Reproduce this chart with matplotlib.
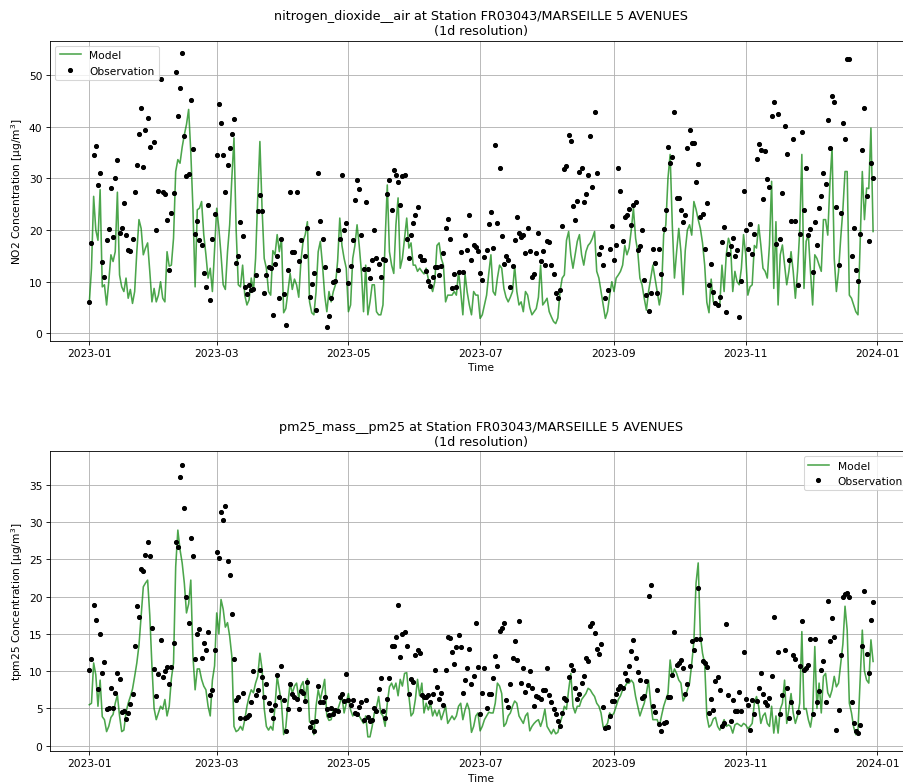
import numpy as np
import pandas as pd
import matplotlib
matplotlib.use("Agg")
import matplotlib.pyplot as plt
import matplotlib.dates as mdates

nan = np.nan

# daily values, 2023-01-01 .. 2023-12-30, one row per month
no2_model = [
    6, 12.6, 26.5, 20, 18, 27.8, 9, 9.4, 5.5, 10, 15.2, 13.9, 15.8, 27.3, 11.3, 9, 8.1, 10.7, 6.8, 8.5, 5.8, 8.1, 15.8, 22, 20.3, 15.2, 16.5, 17.5, 12, 6.1, 8.7,
    6.1, 7.4, 10, 6.8, 6.1, 15.8, 13, 13.2, 18.4, 31.3, 33.6, 32.9, 36, 38.4, 40.4, 43.3, 35, 24, 9, 23.9, 24.2, 25.5, 19.1, 15.2, 10.7, 12.6, 8.1, 16,
    24.2, 20.3, 15.2, 9.4, 8.5, 15.8, 21, 30, 37.8, 20, 9.4, 9, 13.2, 7.4, 5.5, 6.5, 10.7, 8.1, 14.5, 26.2, 37.1, 24.2, 14.5, 12.6, 8.1, 7.4, 16, 15.2, 19.1, 15.8, 18.4,
    4, 4.8, 8.1, 11.6, 8.5, 10.5, 9.4, 7, 14, 17.8, 19.1, 21.6, 6.1, 4, 3.6, 8, 15.8, 17.8, 13.2, 7.4, 4.2, 8.1, 6.1, 8.1, 9.4, 14, 22.3, 17, 14.5, 12.6,
    4.2, 5.5, 14.5, 17, 21, 17, 12, 4.2, 13.2, 3.6, 6.1, 9.4, 9.4, 4.2, 3.6, 3.6, 5.5, 18, 28.7, 15.8, 13.2, 11.6, 21, 26.2, 12.6, 14.5, 18.4, 22.3, 16.5, 17.5, 13.2,
    13.2, 12, 12.6, 12, 11.5, 12.6, 10.5, 9.4, 8.1, 10, 17, 17.5, 14.5, 13.2, 6.1, 7.4, 7.4, 7.4, 8.1, 7.4, 12, 8.1, 3.6, 11.5, 8, 5.5, 3.6, 8.1, 7.4, 7.4,
    2.9, 3.6, 5.5, 7.4, 11.6, 15.2, 8.1, 7.4, 10.7, 13.2, 12.6, 8.7, 7, 6.1, 7, 8.1, 13, 8.1, 5.5, 6.1, 4.2, 8.1, 7.4, 5, 3.6, 4.2, 4.8, 7, 13.2, 5.5, 6.1,
    6.8, 4.2, 3.2, 2.3, 1.9, 3, 8.1, 10.7, 11.3, 18, 19.7, 15.2, 12.6, 15.2, 17.8, 19.1, 15.2, 13.2, 15.8, 17, 17.5, 18.4, 19.7, 12, 10.7, 8.1, 5.5, 2.9, 4.2, 7.4, 10,
    8.1, 10.7, 11.3, 12, 13.2, 17, 15.2, 16.5, 20, 24.2, 18.4, 15.8, 10.7, 9.4, 6.8, 4.5, 8.1, 10.7, 13.2, 10.7, 8.1, 5.5, 8, 19.1, 21, 30, 34.6, 21, 10.7, 15.8,
    20.3, 15.8, 7.5, 16, 20, 21, 19, 25.5, 24, 22, 20.3, 17.5, 13.2, 6, 4, 10.5, 6.1, 5.5, 5.5, 5.5, 13.2, 8.1, 15.2, 18.4, 17, 8.1, 12, 10, 9.4, 12.6, 19.1,
    15.2, 7.4, 9, 9.4, 17, 16.5, 21, 17.1, 12.6, 12, 10.7, 17.1, 29.4, 8.7, 21.6, 5.5, 15.2, 17.1, 13.2, 9.4, 12, 15.8, 12, 6.8, 12, 19.7, 34.6, 8.7, 17.8, 19.1,
    12, 5.5, 15.2, 14.5, 13.2, 12, 22, 22, 19, 29, 35.9, 14.5, 8.1, 12, 18.4, 23.9, 31.3, 31.3, 7.4, 6.8, 5.5, 4.2, 3.6, 17.8, 31.3, 22, 28.1, 28, 39.7, 19.7,
]

no2_obs = [
    6, 17.4, 34.4, 36.2, 28.7, 31, 13.9, 10.9, 18, 20.2, 28.2, 18.7, 30, 33.6, 19.5, 20.3, 25.3, 19.1, 16.2, 16, 18.2, 27.3, 32.5, 38.6, 43.5, 32.2, 39.3, 41.6, 36.1, nan, 37,
    19.9, 27.5, 49.2, 27.4, 27, 22, 12.3, 23.3, 27.1, 50.5, 42, 47.5, 54.2, 38.2, 30.5, 30.8, 45.2, 35.6, 19.3, 21.7, 18, 17.1, 11.7, 9, 24.9, 6.4, 18.3, 23,
    34.4, 44.3, 40.7, 34.4, 27.4, 32.6, 35.9, 38.6, 41.5, 13.6, 14.9, 21.6, 18.9, 8.9, 7.6, 9.3, 8.3, 8.5, 11.2, 23.6, 26.7, 23.6, 7.9, 11.2, 12.9, 12.7, 3.6, 13.5, 14.9, 6.9, 18.3,
    7.7, 1.6, 12.3, 27.3, 15.8, 15.7, 27.3, 14, 18, nan, 14.9, 20.3, 7.1, 9.5, 11.6, 4.5, 31.1, 21.8, 18.2, 12.9, 1.3, 3.3, 6.8, 9.9, 10.1, 12.3, 18.2, 30.7, 20, 21.4,
    9.8, 13.1, 18, 25.7, 29.7, 28, 19.1, 12.5, 25.5, 12.5, 10.7, 14.2, 19.9, 14.5, 13.4, 10.9, 14.3, 14.1, 27, 29.7, 23.8, 31.5, 30.7, 29.2, 24.8, 30.5, 30.7, 18.3, 14.6, 19, 21.3,
    22.8, 24.5, 15, 14.2, 14.1, 12.1, 10.1, 9.1, 10.9, 12.8, 12.8, 11.2, 13, 15.6, 20.3, 22.1, 18.3, 8.7, 11.4, 9, 11.9, 15.8, 11.8, 19.1, 16.1, 22.8, 14.1, 17.1, 16.7, 15.9,
    11.6, 10.3, 14.8, 16.2, 21.1, 23.4, 16.5, 36.4, 21.4, 32, 18.9, 13.5, 14.9, 14.1, 8.9, 13.1, 18, 22.6, 19.5, 18.7, 19, 15.6, 20.4, 16, 11, 11.5, 15.6, 19.4, 14, 16, 13.3,
    17.8, 17.6, 13.2, 11.5, 7.8, 6.9, 8.4, 20.7, 31.8, 32.3, 38.4, 37.2, 24.6, 22, 25.6, 31.3, 32, 25.5, 27, 30.7, 38.2, 28.3, 42.8, 31.1, 15.3, 16.7, 13.2, 6.8, 8.3, 16.4, 20.7,
    14.1, 17.1, 31.9, 27.5, 17.8, 22.5, 22.9, 24.1, 20.9, 24.9, 25.4, 16.1, 16.9, 20, 10.3, 7.4, 4.3, 7.9, 16.3, 13.7, 7.9, 16.3, 11.5, 20.2, 23.8, 36, 32.9, 34.2, 42.8, 26.2,
    26.2, 23.8, 21.6, 22.9, 35.8, 39.4, 36.8, 36.8, 29.2, 32.8, 22.6, 23, 16.3, 25.3, 9.4, 13.4, 8.1, 5.9, 5.4, 7, 17.7, 20.5, 4.1, 15.4, 16.9, 18.5, 15, 16.1, 3.2, 10.1, 27.5,
    20, 16.3, 21.2, 15.4, 19.2, 33.7, 36.7, 35.5, 26, 35.2, 29.8, 28.4, 42.1, 44.8, 17.3, 42.5, 18.3, 27.1, 40.1, 34.6, 14.2, 21.7, 37.5, 21.7, 9.3, 19.3, 39, 23.8, 31.9, 19.1,
    20.1, 11.9, 21.6, 17.1, 24.3, 26.5, 31.1, 28.9, 41.3, 35.9, 45.8, 44.8, 24.4, 13.2, 23.2, 40.6, 37.5, 53, 53, 15, 20.3, 12.2, 10.1, 19.2, 35.4, 43.5, 26.6, 17.8, 32.9, 30.1,
]

pm25_model = [
    5.5, 5.7, 11.1, 9.5, 5.3, 8.8, 3.9, 3.5, 1.9, 2.6, 3.8, 4.2, 5.7, 6.8, 4, 1.9, 2.1, 4.5, 5.7, 6.6, 7.6, 9.3, 11.1, 13.5, 17.5, 21.3, 21.8, 22.2, 17.5, 10.7, 5,
    3.5, 4.4, 5.3, 4.9, 6.2, 4, 5.3, 9, 11.1, 24, 28.9, 26.3, 24.5, 21.8, 17.8, 19, 22.2, 12, 7.5, 10.3, 10.3, 8.9, 8, 7.5, 5.3, 4, 8.8, 10.7,
    17.8, 15, 19.6, 18.3, 15.9, 16.5, 14.7, 12, 2.6, 1.9, 2.1, 2.6, 2.1, 3.5, 5.3, 6.6, 7.5, 7.1, 8.4, 9.3, 12.4, 10.3, 5, 2.6, 2.1, 2.6, 2.1, 5.3, 9.3, 7.5, 5.7,
    1.5, 2.5, 5.7, 8.4, 7, 8, 8.4, 6.3, 8, 8.6, 6, 9, 3.2, 3, 1.5, 5.3, 7.5, 6.2, 7.5, 8.9, 4, 3.4, 3.5, 4.8, 4.4, 4.8, 5.7, 6.6, 4.4, 5.7,
    7, 4.8, 4, 4.4, 4, 4, 3.5, 3, 4, 1.2, 1.2, 2.6, 4.4, 5.2, 6.6, 4.4, 4, 2.6, 5.7, 7.9, 8.4, 7.6, 8.4, 6.7, 8.9, 8, 9.7, 9.8, 6.7, 4, 4.4,
    6.2, 8.9, 6.7, 8.4, 4.4, 5.7, 4.8, 5.7, 4, 4.8, 4, 4.8, 3.5, 4.4, 5.3, 3, 3.5, 4, 3.5, 4, 5.3, 5.7, 3.5, 4.8, 5.7, 4.8, 1.8, 2.6, 4, 4.4,
    2, 2.6, 3.5, 4, 4.5, 4.4, 4.4, 5.7, 8.4, 8, 7, 2.6, 3, 4, 4.4, 5.3, 6, 5.7, 4, 3.5, 3, 4, 4.4, 2, 2.6, 3, 3.3, 3.5, 2.6, 3.5, 4.9,
    2.6, 2.1, 1.6, 2.2, 1.6, 1.8, 3, 4, 5.3, 4.9, 7.5, 9.7, 5.3, 4.4, 5.3, 5.3, 6.2, 6.6, 7, 7.7, 7.5, 7, 6.6, 5.7, 5.3, 4.4, 2.5, 2.6, 3, 4.4, 4,
    4.4, 5.3, 6.2, 6.7, 7.5, 7.9, 8.4, 8.4, 8.8, 8.4, 6.6, 5.3, 4, 4.9, 5.7, 7, 8.8, 5.7, 3.5, 3.5, 3.5, 2.6, 4, 5.3, 6.2, 7, 11.5, 9.3, 10.3, 9.7,
    8.8, 8.4, 6, 6.6, 7.5, 8.4, 11, 14, 21.8, 24.5, 14.7, 12.4, 11, 4, 2.5, 2.8, 3.6, 3.8, 2.6, 2.1, 2.8, 3.5, 2.6, 2.8, 2.6, 1.7, 2.8, 3, 2.8, 2.6, 3,
    2.8, 2.3, 2.6, 3, 5.7, 6.6, 5.3, 3, 4, 4.4, 3, 2.6, 5.3, 1.7, 4, 1.7, 4.9, 5.7, 8.8, 3, 4.9, 7, 4.4, 3, 4, 5.7, 15.3, 4.9, 5, 3.5,
    2.5, 4.4, 13.3, 5, 8.4, 4.4, 9.3, 9.7, 7.1, 6.5, 7.5, 9.3, 7.9, 8.4, 11, 13.6, 18.7, 15.5, 5.7, 4.4, 2.5, 1.5, 2.1, 8.8, 15.5, 10, 8.8, 8.4, 14.2, 11.3,
]

pm25_obs = [
    10.2, 11.6, 18.8, 16.9, 7.6, 15, 9.7, 11.2, 4.9, 5, 7.8, 5, 7.1, 9.7, 9, 4.5, 4.6, 3.6, 4.4, 5.6, 6.9, 13.4, 18.7, 17.3, 23.7, 23.4, 25.5, 27.3, 25.4, 15.8, 10.3,
    6.7, 9.6, 14.2, 9.2, 10, 10.5, 8.3, 10.6, 13.8, 27.3, 26.6, 36, 37.6, 31.8, 19.9, 16.4, 27.9, 25.4, 11.6, 15, 15.7, 11.7, 13.8, 12.8, 15.3, 6.8, 7.5, 12.9,
    25.9, 25.1, 31.3, 30.3, 32.1, 24.7, 22.9, 17.7, 11.6, 6.2, 6.6, 3.7, 7.1, 3.7, 3.9, 4.1, 5.8, 10, 6.8, 7.5, 10.2, 9.2, 6.6, 8.3, 5.7, 4.8, 3.7, 5.4, 9.5, 6.6, 10.7,
    6.1, 2, 4.9, 8.3, 6.9, 6.6, 6.3, 4.9, 7.4, 7.1, 6, 8.6, 2.5, 3.2, 2, 3.3, 8, 5.9, 5.8, 6.6, 4.9, 4.1, 5.1, 4.3, 4.8, 4.6, 6.6, 6.9, 6, 9.6,
    6.1, 5.4, 6.2, 4.4, 4.2, 5.2, 5.8, 3.5, 6.1, 3.8, 3.3, 3.4, 5, 4.6, 7.6, 9.1, 4.6, 3.7, 6.3, 9.1, 13.4, 13.4, 14.6, 18.9, 11.9, 15, 15.3, 13.4, 7, 9, 8.5,
    12.1, 12.9, 12.4, 6.8, 6.6, 6.5, 6.8, 5.8, 7, 10.2, 7.9, 6.3, 7.1, 5.4, 10.1, 14.6, 14.5, 12.5, 10.9, 13.2, 14.8, 13.3, 7.1, 8.8, 10.4, 13, 8.3, 9.4, 16.4, 10.5,
    4.2, 7.1, 10.4, 5, 7, 6.9, 9.1, 12, 10.7, 15.4, 15.8, 16.4, 6.2, 5.2, 8.3, 11.7, 14, 11.5, 16.7, 8.4, 10.4, 7.2, 8.2, 10, 7.8, 5.3, 6.7, 6.5, 6.3, 7.5, 7.5,
    10.4, 6.8, 5.9, 4.9, 4.2, 3.3, 2.7, 4.4, 6.4, 6.2, 9.2, 10.8, 10.1, 7.7, 6.3, 7, 8.4, 9.3, 11.7, 11.4, 16.1, 16.5, 15.1, 13, 12.3, 13.6, 5.2, 2.4, 2.5, 4, 6,
    6, 6.9, 7.6, 8, 7.7, 9.7, 8.8, 10.7, 12.7, 14.2, 11.8, 9.9, 8.8, 6.4, 6.7, 8.7, 20.1, 21.6, 5.3, 4.5, 7.5, 2.9, 2, 3, 3.2, 6.5, 6.6, 9.5, 15.2, 10.8,
    11.1, 11.5, 10.4, 7, 8.3, 10.7, 14, 12.9, 14.3, 21.1, 14.3, 11.4, 11.1, 10.6, 4.4, 6.3, 4.8, 8.7, 9.2, 7.5, 2.7, 3.1, 16.3, 6.8, 3.3, 6.2, 4.6, 4.6, 7.2, 4.6, 12.5,
    6.3, 5.5, 2.1, 6.2, 4.2, 6, 7.7, 9.8, 6.9, 5.8, 5.4, 6.4, 9.3, 17.3, nan, 12.5, 4.3, 6.8, 12.9, 7.8, 3.7, 5.8, 12.1, 11.6, 4.5, 10.7, 16.7, 10.2, 10.4, 10.8,
    14.3, 4.3, 14.3, 5.8, 7.4, 10.2, 11.3, 5.8, 19.4, 14.1, 17.1, 14.6, 2.1, 4.8, 12.2, 20, 20.4, 20.5, 20, 5.8, 3, 2, 1.7, 2.8, 13.4, 20.7, 12.3, 9.7, 16.8, 19.2,
]

dates = pd.date_range("2023-01-01", periods=len(no2_model), freq="D")

station = "FR03043/MARSEILLE 5 AVENUES"
panels = [
    ("nitrogen_dioxide__air", "NO2 Concentration [µg/m$^3$]", no2_model, no2_obs, "upper left", (-1.4, 56.6)),
    ("pm25_mass__pm25", "tpm25 Concentration [µg/m$^3$]", pm25_model, pm25_obs, "upper right", (-0.7, 39.5)),
]

dpi = 76.5
fig = plt.figure(figsize=(903 / dpi, 784 / dpi), dpi=dpi)
bottoms = [0.5642, 0.0408]

for (var, ylabel, model, obs, loc, ylim), b in zip(panels, bottoms):
    ax = fig.add_axes([0.0554, b, 0.955, 0.3827])
    ax.plot(dates, model, color="green", alpha=0.7, label="Model")
    ax.plot(dates, obs, "o", color="black", markersize=3.8, label="Observation")
    ax.set_title(f"{var} at Station {station}\n(1d resolution)")
    ax.set_xlabel("Time")
    ax.set_ylabel(ylabel)
    ax.set_ylim(*ylim)
    ax.set_xlim(dates[0] - pd.Timedelta(days=18.2), dates[-1] + pd.Timedelta(days=18.2))
    ax.xaxis.set_major_locator(mdates.MonthLocator(bymonth=[1, 3, 5, 7, 9, 11]))
    ax.xaxis.set_major_formatter(mdates.DateFormatter("%Y-%m"))
    ax.grid(True)
    ax.legend(loc=loc)

fig.savefig("out.png", dpi=dpi)
